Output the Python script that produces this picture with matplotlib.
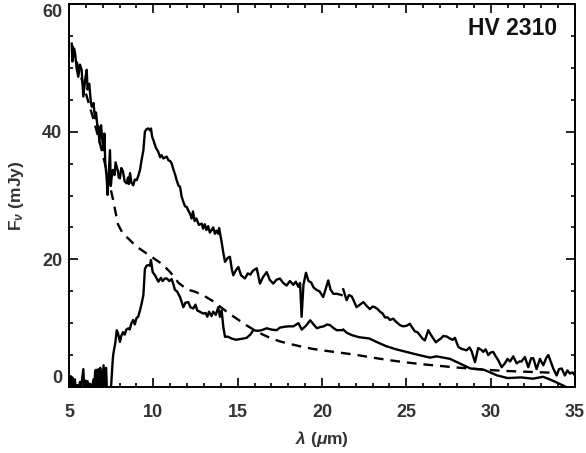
import numpy as np
import matplotlib
matplotlib.use("Agg")
import matplotlib.pyplot as plt
from matplotlib.ticker import MultipleLocator

plt.rcParams['font.family'] = ['Liberation Sans', 'DejaVu Sans']
plt.rcParams['font.weight'] = 'bold'
plt.rcParams['mathtext.fontset'] = 'custom'
plt.rcParams['mathtext.rm'] = 'Liberation Sans:bold'
plt.rcParams['mathtext.it'] = 'Liberation Sans:italic'
plt.rcParams['mathtext.bf'] = 'Liberation Sans:bold'
plt.rcParams['lines.scale_dashes'] = False

# Total observed spectrum (mJy)
wave_total = [5.16, 5.2, 5.3, 5.36, 5.45, 5.55, 5.65, 5.75, 5.85, 5.95, 6.05, 6.1, 6.2, 6.3, 6.35, 6.45,
              6.54, 6.6, 6.7, 6.74, 6.8, 6.9, 6.94, 7.0, 7.04, 7.1, 7.15, 7.23, 7.29, 7.35, 7.43, 7.48,
              7.53, 7.6, 7.7, 7.76, 7.83, 7.9, 7.95, 8.02, 8.1, 8.2, 8.3, 8.42, 8.5, 8.55, 8.62, 8.7,
              8.81, 8.9, 9.01, 9.1, 9.21, 9.3, 9.41, 9.5, 9.6, 9.7, 9.8, 9.86, 9.93, 10.0, 10.15, 10.3,
              10.4, 10.49, 10.6, 10.79, 10.9, 11.0, 11.09, 11.2, 11.3, 11.38, 11.5, 11.58, 11.68, 11.78,
              11.88, 11.98, 12.1, 12.2, 12.27, 12.35, 12.45, 12.55, 12.7, 12.87, 12.95, 13.05, 13.15,
              13.25, 13.35, 13.46, 13.55, 13.65, 13.75, 13.85, 13.9, 14.05, 14.15, 14.25, 14.4, 14.54,
              14.65, 14.74, 14.9, 15.04, 15.2, 15.43, 15.6, 15.75, 15.9, 16.13, 16.32, 16.5, 16.72,
              16.9, 17.11, 17.3, 17.5, 17.7, 17.9, 18.1, 18.3, 18.45, 18.6, 18.7, 18.79, 18.9, 19.05,
              19.2, 19.35, 19.5, 19.68, 19.85, 20.07, 20.2, 20.37, 20.5, 20.67, 20.9, 21.16, 21.21,
              21.26, 21.46, 21.6, 21.76, 21.9, 22.05, 22.25, 22.45, 22.65, 22.84, 23.0, 23.14, 23.3,
              23.44, 23.6, 23.73, 23.9, 24.03, 24.22, 24.4, 24.62, 24.8, 25.02, 25.21, 25.35, 25.51,
              25.65, 25.81, 25.95, 26.1, 26.3, 26.45, 26.6, 26.75, 26.89, 27.05, 27.19, 27.4, 27.58,
              27.75, 27.88, 28.08, 28.25, 28.37, 28.57, 28.75, 28.87, 29.07, 29.26, 29.45, 29.56, 29.7,
              29.86, 30.0, 30.15, 30.3, 30.45, 30.65, 30.84, 31.0, 31.15, 31.34, 31.54, 31.7, 31.83,
              32.03, 32.23, 32.4, 32.53, 32.72, 32.92, 33.12, 33.3, 33.42, 33.6, 33.71, 33.91, 34.05,
              34.21, 34.4, 34.55, 34.7, 34.85, 35.0]
flux_total = [53.8, 51.0, 53.0, 52.3, 50.0, 48.6, 50.5, 49.7, 45.5, 48.0, 49.7, 46.6, 47.5, 44.5, 43.9, 44.5,
              42.1, 43.0, 40.5, 40.8, 38.4, 41.0, 39.7, 38.0, 37.1, 39.7, 35.0, 32.9, 30.1, 33.0, 37.1, 31.5,
              32.9, 34.0, 33.2, 35.2, 34.5, 33.8, 32.8, 32.7, 34.3, 33.8, 32.2, 31.9, 32.8, 31.8, 33.5, 32.0,
              31.6, 32.5, 32.4, 33.0, 34.0, 35.5, 37.1, 40.0, 40.4, 40.5, 40.2, 40.5, 39.2, 38.7, 37.5, 36.8,
              36.0, 36.3, 35.8, 36.1, 35.5, 35.4, 35.0, 34.0, 33.2, 32.4, 31.5, 31.4, 29.8, 29.0,
              28.3, 28.2, 27.5, 27.0, 26.4, 27.5, 26.0, 26.4, 25.4, 25.6, 24.8, 25.5, 24.6,
              25.2, 24.2, 24.6, 25.0, 24.0, 24.5, 24.0, 24.9, 22.7, 21.0, 19.6, 20.2, 20.4,
              18.5, 17.5, 18.3, 18.8, 17.5, 17.0, 17.8, 17.6, 18.2, 18.6, 16.2, 17.2, 18.0,
              16.8, 16.2, 16.8, 17.0, 16.3, 15.9, 16.6, 16.0, 16.5, 15.7, 16.3, 11.0, 16.0, 17.9,
              16.6, 16.4, 15.6, 15.2, 15.0, 14.1, 15.2, 16.7, 15.3, 14.6, 14.6, 14.4, np.nan,
              15.3, 13.6, 14.4, 14.2, 13.4, 12.5, 12.9, 13.3, 12.7, 12.2, 12.6, 12.5, 12.2,
              11.8, 11.5, 10.9, 10.9, 10.5, 10.7, 10.2, 9.7, 9.5, 9.6, 9.9, 9.3, 8.7,
              8.6, 8.1, 7.6, 7.3, 8.9, 8.2, 7.6, 7.0, 7.3, 7.6, 8.0, 7.9, 7.6,
              7.4, 7.7, 6.3, 6.0, 5.9, 5.75, 6.2, 5.6, 3.9, 6.1, 5.8, 5.5, 5.9,
              5.0, 5.4, 5.5, 4.8, 4.2, 3.1, 3.7, 4.4, 4.0, 4.8, 3.7, 4.0, 4.0,
              4.7, 3.1, 4.5, 4.5, 2.8, 4.4, 3.4, 4.6, 5.0, 3.7, 2.9, 1.8, 2.8,
              2.9, 1.8, 2.6, 2.1, 2.3, 1.8]

# Stellar photosphere model (mJy)
wave_phot = [5.2, 5.5, 6.0, 6.5, 7.0, 7.3, 7.6, 7.9, 8.2, 8.5, 9.0, 9.5, 10.0, 10.5, 11.0, 11.5,
             12.0, 12.5, 13.0, 13.5, 14.0, 14.5, 15.0, 15.5, 16.0, 16.5, 17.0, 17.5, 18.0, 18.5,
             19.0, 19.5, 20.0, 21.0, 22.0, 23.0, 24.0, 25.0, 26.0, 27.0, 28.0, 29.0, 30.0, 31.0,
             32.0, 33.0, 34.0]
flux_phot = [53.5, 50.5, 46.0, 41.5, 36.5, 33.0, 29.5, 25.5, 24.0, 23.3, 22.0, 21.1, 20.2, 19.3, 18.0, 16.3,
             15.3, 14.9, 14.3, 13.5, 12.5, 11.5, 10.6, 9.7, 8.9, 8.2, 7.6, 7.15, 6.8, 6.5,
             6.2, 5.95, 5.75, 5.4, 5.05, 4.6, 4.2, 3.85, 3.55, 3.3, 3.05, 2.85, 2.65, 2.5,
             2.4, 2.3, 2.2]

# Infrared excess (mJy)
wave_excess = [5.05, 5.1, 5.15, 5.2, 5.25, 5.35, 5.4, 5.5, 5.6, 5.65, 5.7, 5.8, 5.85, 5.9, 6.0, 6.05,
               6.1, 6.2, 6.25, 6.35, 6.45, 6.5, 6.55, 6.6, 6.65, 6.7, 6.75, 6.8, 6.85, 6.9, 6.95, 7.05,
               7.1, 7.2, 7.25, 7.4, 7.5, 7.6, 7.63, 7.75, 7.83, 7.9, 8.02, 8.1, 8.2, 8.3, 8.4, 8.52,
               8.6, 8.7, 8.81, 8.9, 9.0, 9.1, 9.21, 9.3, 9.41, 9.5, 9.6, 9.7, 9.8, 9.86, 9.96, 10.1,
               10.3, 10.45, 10.55, 10.69, 10.8, 10.95, 11.09, 11.2, 11.28, 11.4, 11.58, 11.68, 11.78,
               11.9, 12.07, 12.2, 12.37, 12.5, 12.6, 12.75, 12.96, 13.1, 13.2, 13.3, 13.45, 13.55,
               13.7, 13.85, 13.95, 14.05, 14.15, 14.25, 14.4, 14.64, 14.9, 15.14, 15.35, 15.53, 15.75,
               15.92, 16.2, 16.42, 16.72, 17.0, 17.31, 17.5, 17.7, 18.0, 18.3, 18.6, 18.8, 19.05, 19.3,
               19.5, 19.7, 19.9, 20.1, 20.3, 20.47, 20.7, 20.87, 21.16, 21.21, 21.26, 21.46, 21.8, 22.2,
               22.8, 23.2, 23.8, 24.4, 25.0, 25.6, 26.4, 26.8, 27.6, 28.4, 28.8, 29.6, 30.4, 31.0,
               31.8, 32.5, 33.1, 33.5, 34.0, 34.4, 34.6]
flux_excess = [-0.5, 1.7, 0.2, 1.5, -0.5, 1.2, -0.5, 0.3, -0.5, 0.8, -0.5, 1.8, 2.8, -0.5, 1.0, -0.5,
               0.9, -0.5, 0.5, -0.5, 1.2, -0.5, 2.5, 2.7, -0.5, 2.0, 2.8, -0.5, 3.0, 1.5, -0.5, 3.4,
               -0.5, 3.0, -0.5, -0.5, 0.3, 4.5, 5.2, 7.0, 8.9, 8.5, 7.05, 8.0, 8.6, 8.2, 9.0, 9.2,
               9.0, 10.0, 10.5, 9.8, 10.8, 11.0, 12.0, 13.0, 14.4, 18.5, 19.0, 19.1, 19.0, 19.9, 18.0, 17.5,
               16.5, 17.1, 16.6, 17.0, 17.0, 16.6, 16.9, 16.0, 15.2, 15.0, 14.1, 13.3, 12.5,
               13.2, 13.3, 12.5, 12.3, 12.9, 12.0, 11.8, 11.5, 11.6, 11.0, 11.8, 11.1, 11.8,
               11.3, 12.5, 11.0, 12.0, 9.4, 7.85, 7.9, 7.6, 7.4, 7.5, 7.6, 7.7, 8.2,
               8.9, 8.8, 8.9, 9.2, 9.0, 8.9, 9.3, 9.4, 9.5, 9.5, 10.0, 9.0, 9.6, 10.45,
               9.8, 9.2, 9.4, 9.5, 9.8, 9.7, 9.2, 8.9, 8.9, np.nan, 9.0, 8.5, 8.1, 7.8,
               7.6, 7.1, 6.4, 5.9, 5.5, 5.1, 4.6, 4.8, 4.4, 3.4, 2.9, 2.7, 1.8, 1.4,
               1.5, 1.3, 1.6, 1.2, 0.6, 0.1, -0.2]

title = "HV 2310"
xticks = [5, 10, 15, 20, 25, 30, 35]
yticks = [0, 20, 40, 60]

fig = plt.figure(figsize=(5.86, 4.53), dpi=100)
ax = fig.add_axes([69 / 586, 66 / 453, 506 / 586, 383 / 453])

lw = 1.7
ax.plot(wave_total, flux_total, color='black', lw=lw)
ax.plot(wave_excess, flux_excess, color='black', lw=lw)
ax.plot(wave_phot, flux_phot, color='black', lw=lw, linestyle=(0, (7, 5)))

ax.set_xlim(5, 35)
ax.set_ylim(0, 60)
ax.set_xticks(xticks)
ax.set_yticks(yticks)
ax.xaxis.set_minor_locator(MultipleLocator(1))
ax.yaxis.set_minor_locator(MultipleLocator(5))
ax.tick_params(which='both', direction='in', top=True, right=True, width=1.2, color='black')
ax.tick_params(which='major', length=6.5)
ax.tick_params(which='minor', length=3)
ax.tick_params(axis='x', which='major', pad=12, labelsize=13, labelcolor='#333333')
ax.tick_params(axis='y', which='major', pad=5, labelsize=13, labelcolor='#333333')
for lab in ax.get_xticklabels() + ax.get_yticklabels():
    lab.set_fontweight('bold')
ytl = ax.yaxis.get_major_ticks()
ytl[0].label1.set_verticalalignment('bottom')
ytl[-1].label1.set_verticalalignment('top')
for sp in ax.spines.values():
    sp.set_linewidth(1.4)

ax.set_xlabel(r'$\lambda$ ($\mu$m)', fontsize=12.5, fontweight='bold', color='#333333')
ax.xaxis.set_label_coords(0.5, -0.11)
ax.set_ylabel(r'F$_{\nu}$ (mJy)', fontsize=12.5, fontweight='bold', color='#333333')
ax.yaxis.set_label_coords(-0.085, 0.5)

ax.text(0.964, 0.937, title, transform=ax.transAxes, ha='right', va='center',
        fontsize=16.5, fontweight='bold', color='#111111')

fig.savefig('out.png', dpi=100)
